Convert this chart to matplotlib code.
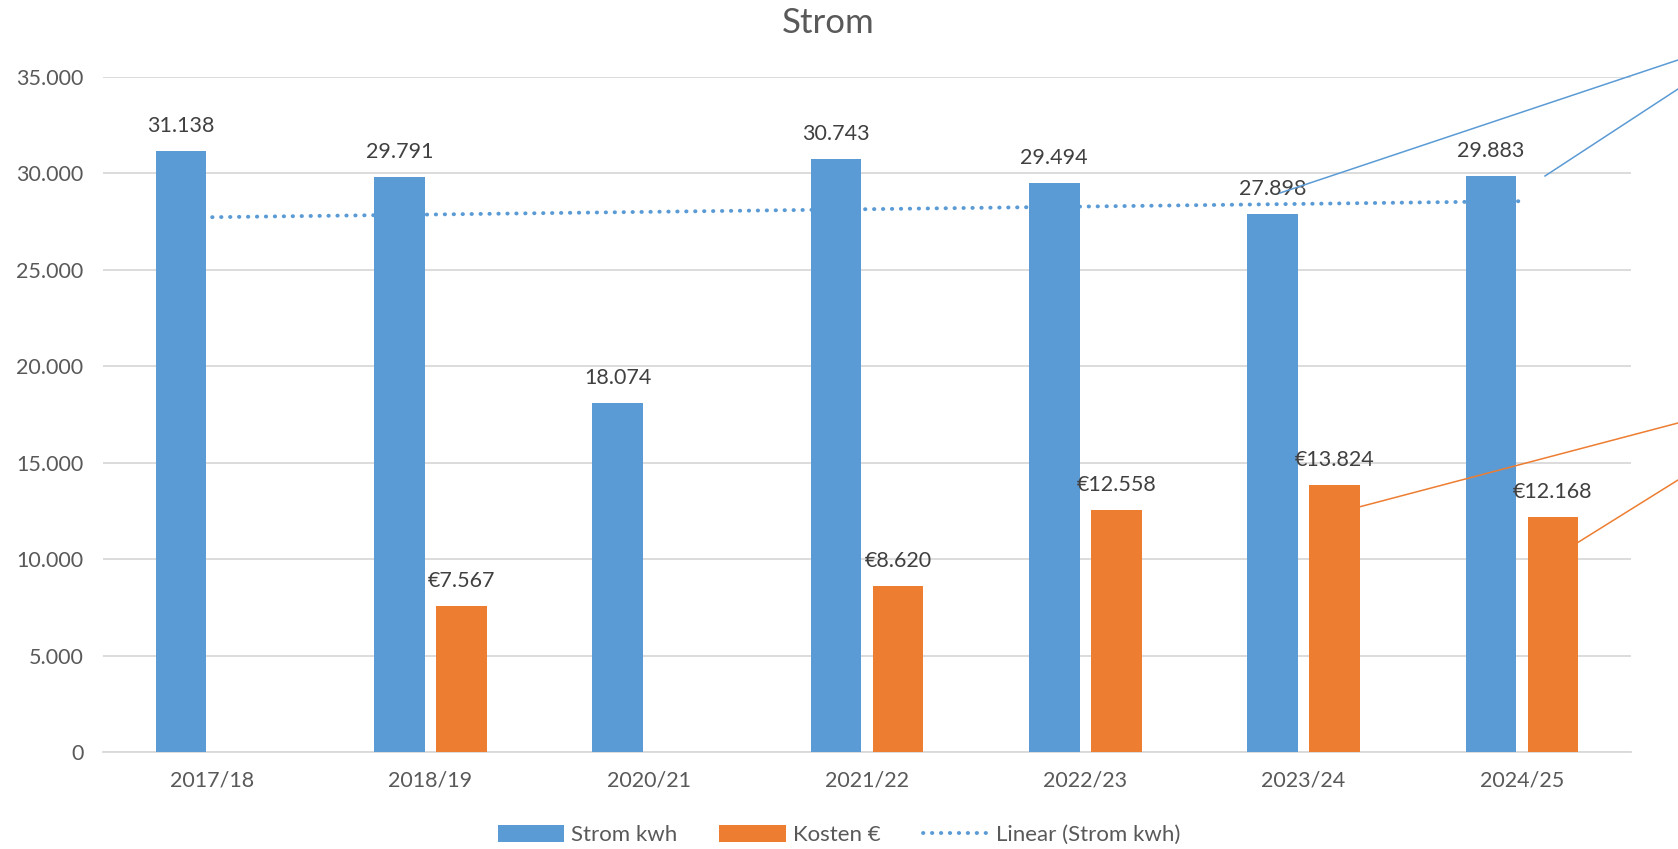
import matplotlib.pyplot as plt
import numpy as np
from matplotlib.lines import Line2D

plt.rcParams['font.family'] = ['Lato', 'DejaVu Sans']

# Daten
jahre = ['2017/18', '2018/19', '2020/21', '2021/22', '2022/23', '2023/24', '2024/25']
strom_kwh = [31138, 29791, 18074, 30743, 29494, 27898, 29883]
kosten_eur = [np.nan, 7567, np.nan, 8620, 12558, 13824, 12168]
y_ticks = [0, 5000, 10000, 15000, 20000, 25000, 30000, 35000]

blau = '#5B9BD5'
orange = '#ED7D31'
text_farbe = '#595959'
label_farbe = '#404040'

def fmt(v):
    return '{:,.0f}'.format(v).replace(',', '.')

fig = plt.figure(figsize=(16.78, 8.49), dpi=100)
ax = fig.add_axes([103 / 1678, 1 - 752 / 849, (1631 - 103) / 1678, (752 - 77) / 849])

x = np.arange(len(jahre))
breite = 0.232
versatz = 0.142

ax.bar(x - versatz, strom_kwh, breite, color=blau, label='Strom kwh', zorder=3)
ax.bar(x + versatz, kosten_eur, breite, color=orange, label='Kosten €', zorder=3)

# Trendlinie (linear)
k, d = np.polyfit(x, strom_kwh, 1)
ax.plot(x, k * x + d, linestyle=(0, (0.1, 2.2)), dash_capstyle='round',
        color=blau, linewidth=2.8, zorder=4)

for xi, v in zip(x, strom_kwh):
    ax.annotate(fmt(v), (xi - versatz, v), xytext=(0, 25), textcoords='offset pixels',
                ha='center', va='center', fontsize=15.5, color=label_farbe)
for xi, v in zip(x, kosten_eur):
    if not np.isnan(v):
        ax.annotate('€' + fmt(v), (xi + versatz, v), xytext=(0, 25), textcoords='offset pixels',
                    ha='center', va='center', fontsize=15.5, color=label_farbe)

ax.set_xlim(-0.5, len(jahre) - 0.5)
ax.set_ylim(0, 35000)
ax.set_yticks(y_ticks)
ax.set_yticklabels([fmt(t) for t in y_ticks])
ax.set_xticks(x)
ax.set_xticklabels(jahre)
ax.tick_params(axis='both', length=0, labelsize=15.5, labelcolor=text_farbe)
ax.tick_params(axis='y', pad=14)
ax.tick_params(axis='x', pad=13)
ax.grid(axis='y', color='#D9D9D9', linewidth=1.3, zorder=0)
ax.set_axisbelow(True)
for s in ['top', 'right', 'left']:
    ax.spines[s].set_visible(False)
ax.spines['bottom'].set_color('#D9D9D9')
ax.spines['bottom'].set_linewidth(1.3)

fig.text(0.4935, 1 - 23 / 849, 'Strom', ha='center', va='center', fontsize=25, color=text_farbe)

# Führungslinien zu verschobenen Beschriftungen
def fuehrung(p1, p2, farbe):
    fig.add_artist(Line2D([p1[0] / 1678, p2[0] / 1678], [1 - p1[1] / 849, 1 - p2[1] / 849],
                          color=farbe, linewidth=1.1))

fuehrung((1280, 193), (1678, 60), blau)
fuehrung((1545, 176), (1678, 89), blau)
fuehrung((1359, 507), (1678, 423), orange)
fuehrung((1577, 543), (1678, 480), orange)

handles, labels = ax.get_legend_handles_labels()
handles.append(Line2D([], [], color=blau, linestyle=(0, (0.1, 2.2)), dash_capstyle='round', linewidth=2.8))
labels.append('Linear (Strom kwh)')
fig.legend(handles, labels, loc='center', bbox_to_anchor=(0.5, 1 - 835 / 849), ncol=3,
           frameon=False, fontsize=16, handlelength=3.0, handleheight=0.8,
           columnspacing=1.9, handletextpad=0.3, labelcolor=text_farbe)

fig.savefig('out.png', dpi=100)
